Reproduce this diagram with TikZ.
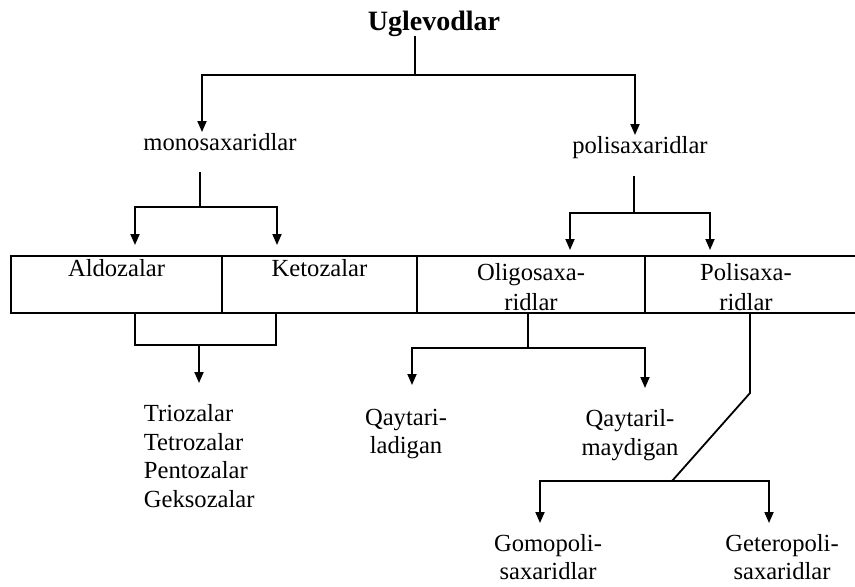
\documentclass[tikz,border=0pt]{standalone}
\usepackage{fontspec}
\setmainfont{Liberation Serif}
\usetikzlibrary{arrows.meta,positioning}

\begin{document}
\begin{tikzpicture}[x=0.5pt,y=-0.5pt,line width=0.9pt,
    txt/.style={inner sep=0pt,font=\fontsize{12.3}{14.2}\selectfont},
    cell/.style={draw,line width=0.6pt,minimum height=28.5pt,inner sep=0pt,outer sep=0pt},
    arr/.style={-{Triangle[length=5.5pt,width=4.5pt]}}]
    \useasboundingbox (0,0) rectangle (855,586);
    \node[txt,font=\fontsize{14}{16}\selectfont\bfseries,anchor=base] (ugl) at (434,30) {Uglevodlar};
    \node[txt,anchor=base] (mono) at (220,150) {monosaxaridlar};
    \node[txt,anchor=base] (poli) at (640,153) {polisaxaridlar};
    \node[cell,minimum width=105.5pt,anchor=north west] (ald) at (11,256) {};
    \node[cell,minimum width=97.5pt,right=0pt of ald] (ket) {};
    \node[cell,minimum width=114pt,right=0pt of ket] (oli) {};
    \node[cell,draw=none,minimum width=105pt,right=0pt of oli] (pol) {};
    \draw[line width=0.6pt] (pol.north west) -- (pol.north east) (pol.south west) -- (pol.south east);
    \node[txt,anchor=base] (aldt) at ([yshift=-10pt]ald.north) {Aldozalar};
    \node[txt,anchor=base] (kett) at ([yshift=-10pt]ket.north) {Ketozalar};
    \node[txt,anchor=north,align=center,font=\fontsize{12.3}{15}\selectfont] (olit) at ([yshift=-3.5pt]oli.north) {Oligosaxa-\\ridlar};
    \node[txt,anchor=north,align=center,font=\fontsize{12.3}{15}\selectfont] (polt) at ([yshift=-3.5pt,xshift=-2pt]pol.north) {Polisaxa-\\ridlar};
    \node[txt,anchor=north west,align=left] (tri) at (143,404) {Triozalar\\Tetrozalar\\Pentozalar\\Geksozalar};
    \node[txt,anchor=north,align=center] (qay1) at (406,408) {Qaytari-\\ladigan};
    \node[txt,anchor=north,align=center] (qay2) at (630,409) {Qaytaril-\\maydigan};
    \node[txt,anchor=north,align=center,font=\fontsize{12.3}{14}\selectfont] (gomo) at (548,534) {Gomopoli-\\saxaridlar};
    \node[txt,anchor=north,align=center,font=\fontsize{12.3}{14}\selectfont] (get) at (782,534) {Geteropoli-\\saxaridlar};
    \coordinate (j0) at (415,75);
    \coordinate (mj) at (200,207);
    \coordinate (pj) at (634,213);
    \coordinate (bj) at (199,345);
    \coordinate (oj) at (528,348);
    \coordinate (gj) at (672,481);
    \draw[shorten <=3pt] (ugl.base -| j0) -- (j0);
    \draw[arr] (j0) -| (mono.north -| 202,0);
    \draw[arr] (j0) -| (poli.north -| 635,0);
    \draw[shorten <=10.5pt] (mono.south -| mj) -- (mj);
    \draw[shorten <=8.5pt] (poli.south -| pj) -- (pj);
    \draw[arr,shorten >=5.5pt] (mj) -| (ald.north -| 135,0);
    \draw[arr,shorten >=5.5pt] (mj) -| (ket.north -| 277,0);
    \draw[arr,shorten >=3pt] (pj) -| (oli.north -| 570,0);
    \draw[arr,shorten >=3pt] (pj) -| (pol.north -| 710,0);
    \draw (ald.south -| 135,0) |- (bj) -| (ket.south -| 276,0);
    \draw[arr,shorten >=10.5pt] (bj) -- (bj |- tri.north);
    \draw (oli.south -| oj) -- (oj);
    \draw[arr,shorten >=11.5pt] (oj) -| (qay1.north -| 412,0);
    \draw[arr,shorten >=10.5pt] (oj) -| (qay2.north -| 645,0);
    \draw (pol.south) -- ++(0,80) -- (gj);
    \draw[arr,shorten >=5.5pt] (gj) -| (gomo.north -| 540,0);
    \draw[arr,shorten >=5.5pt] (gj) -| (get.north -| 769,0);
\end{tikzpicture}
\end{document}
